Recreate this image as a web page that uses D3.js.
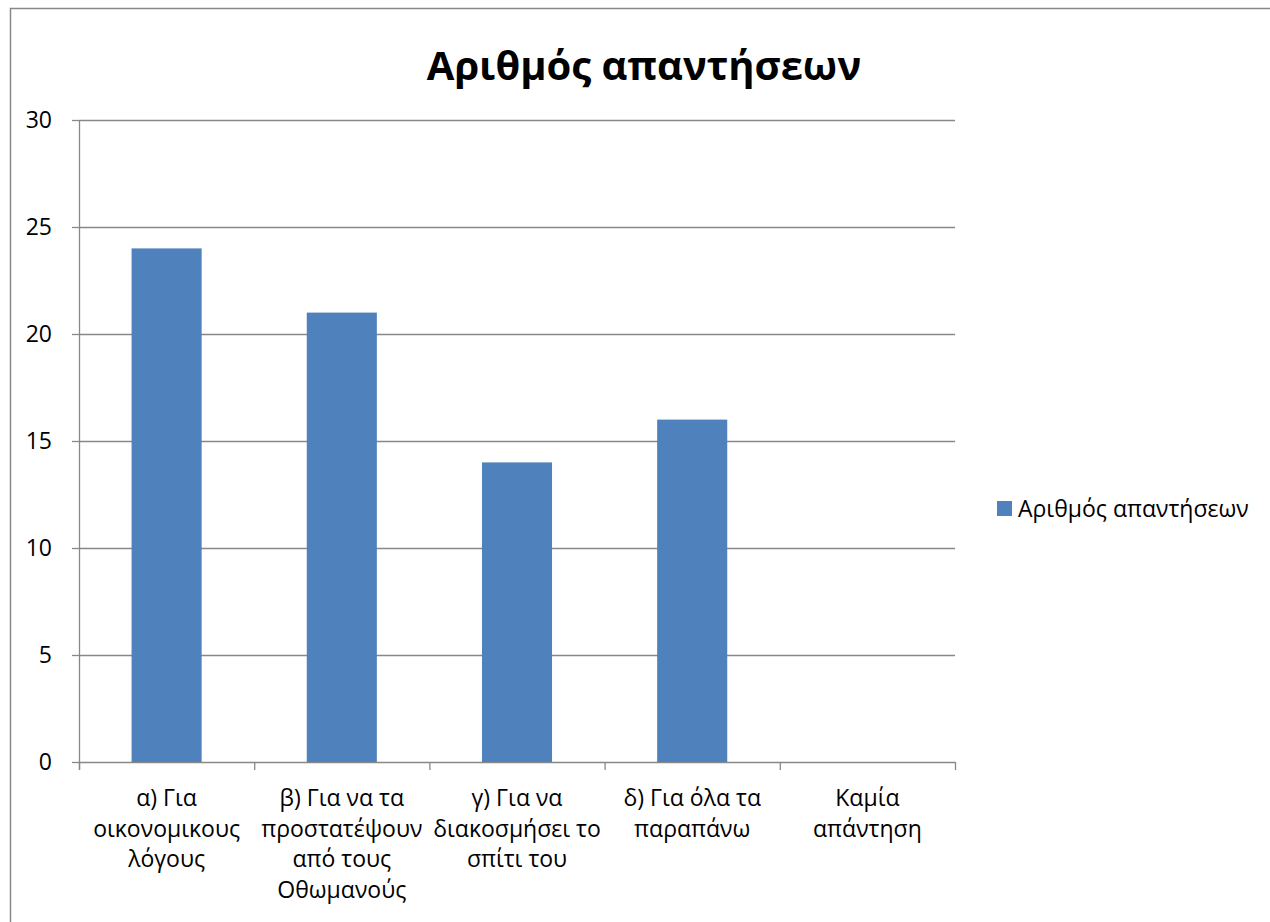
<!DOCTYPE html>
<html>
<head>
<meta charset="utf-8">
<script src="https://cdn.jsdelivr.net/npm/d3@7"></script>
<style>
  body { margin: 0; background: #fff; }
  svg { display: block; font-family: "Open Sans", "Noto Sans", sans-serif; }
</style>
</head>
<body>
<svg></svg>
<script>
const title = "Αριθμός απαντήσεων";
const seriesName = "Αριθμός απαντήσεων";
const categories = [
  "α) Για\nοικονομικους\nλόγους",
  "β) Για να τα\nπροστατέψουν\nαπό τους\nΟθωμανούς",
  "γ) Για να\nδιακοσμήσει το\nσπίτι του",
  "δ) Για όλα τα\nπαραπάνω",
  "Καμία\nαπάντηση"
];
const values = [24, 21, 14, 16, 0];
const yTicks = [0, 5, 10, 15, 20, 25, 30];

const width = 1270;
const height = 922;
const margin = {top: 120, right: 315, bottom: 160, left: 79};
const viewWidth = width - margin.left - margin.right;
const viewHeight = height - margin.top - margin.bottom;

let svg = d3.select("svg")
            .attr("width", width)
            .attr("height", height);

// chart frame (runs off the right and bottom edge)
svg.append("rect")
   .attr("x", 10.5)
   .attr("y", 8.5)
   .attr("width", width + 20)
   .attr("height", height + 20)
   .style("fill", "none")
   .style("stroke", "#888")
   .style("stroke-width", 1.5);

svg.append("text")
   .attr("x", 644)
   .attr("y", 80)
   .attr("text-anchor", "middle")
   .style("font-size", "40px")
   .style("font-weight", "bold")
   .text(title);

const g = svg.append("g")
             .attr("transform", "translate(" + margin.left + "," + margin.top + ")");

const x = d3.scaleBand()
            .domain(categories)
            .range([0, viewWidth])
            .paddingInner(0.6)
            .paddingOuter(0.3);

const y = d3.scaleLinear()
            .domain([0, 30])
            .range([viewHeight, 0]);

// gridlines
g.append("g")
 .selectAll("line")
 .data(yTicks.filter(d => d > 0))
 .enter()
 .append("line")
 .attr("x1", 0)
 .attr("x2", viewWidth)
 .attr("y1", d => Math.round(y(d)) + 0.5)
 .attr("y2", d => Math.round(y(d)) + 0.5)
 .style("stroke", "#888")
 .style("stroke-width", 1.3);

// y axis
const yAxis = g.append("g")
               .call(d3.axisLeft(y).tickValues(yTicks).tickSize(7).tickPadding(20));
yAxis.attr("font-family", null);
yAxis.selectAll("text")
     .style("font-size", "23px")
     .style("fill", "#000");
yAxis.selectAll("line, path").style("stroke", "#888").style("stroke-width", 1.3);
yAxis.select(".domain").attr("d", "M0.5," + (viewHeight + 8) + "V0");

// x axis ticks at category boundaries
const bounds = d3.range(categories.length + 1).map(i => i * x.step());
const xAxis = g.append("g").attr("transform", "translate(0," + viewHeight + ")");
xAxis.append("line")
     .attr("x1", 0).attr("x2", viewWidth)
     .attr("y1", 0.5).attr("y2", 0.5)
     .style("stroke", "#888").style("stroke-width", 1.3);
xAxis.selectAll(".bt")
     .data(bounds)
     .enter()
     .append("line")
     .attr("class", "bt")
     .attr("x1", d => d + 0.5).attr("x2", d => d + 0.5)
     .attr("y1", 0).attr("y2", 8)
     .style("stroke", "#888").style("stroke-width", 1.3);

// category labels
const labels = xAxis.selectAll(".cat")
                    .data(categories)
                    .enter()
                    .append("text")
                    .attr("class", "cat")
                    .attr("text-anchor", "middle")
                    .attr("transform", d => "translate(" + (x(d) + x.bandwidth() / 2) + ",44)")
                    .style("font-size", "23px")
                    .style("fill", "#000");
labels.selectAll("tspan")
      .data(d => d.split("\n"))
      .enter()
      .append("tspan")
      .attr("x", 0)
      .attr("y", (d, i) => i * 30.5)
      .text(d => d);

// bars
g.append("g")
 .selectAll("rect")
 .data(values)
 .enter()
 .append("rect")
 .attr("x", (d, i) => x(categories[i]))
 .attr("y", d => y(d))
 .attr("width", x.bandwidth())
 .attr("height", d => viewHeight - y(d))
 .style("fill", "#4F81BD");

// legend
const legend = svg.append("g").attr("transform", "translate(997,501)");
legend.append("rect")
      .attr("width", 15)
      .attr("height", 15)
      .style("fill", "#4F81BD");
legend.append("text")
      .attr("x", 21)
      .attr("y", 16)
      .style("font-size", "23px")
      .text(seriesName);
</script>
</body>
</html>
